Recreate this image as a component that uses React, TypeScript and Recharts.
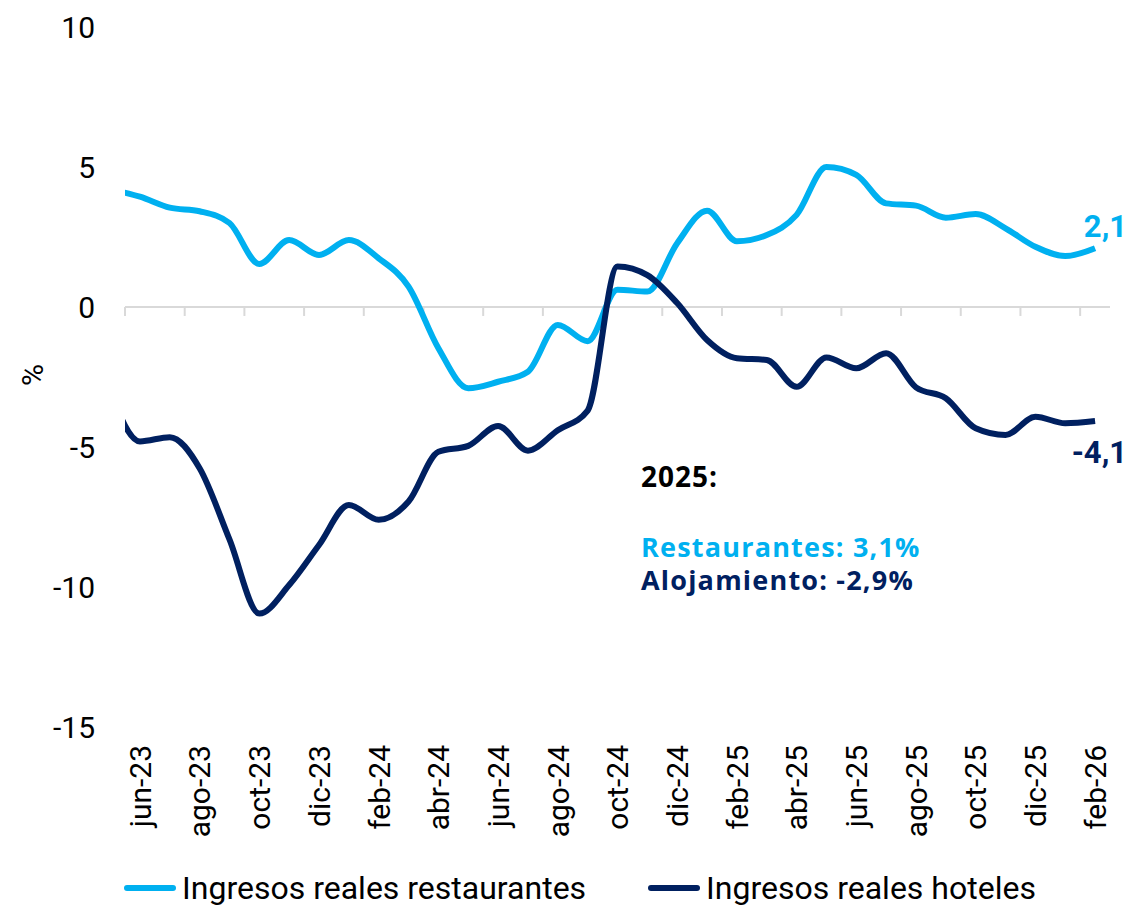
import React from 'react';
import { LineChart, Line, XAxis, YAxis, ReferenceLine, Legend, LabelList } from 'recharts';

// months (may-23 only feeds the clipped start of the lines)
const months = [
    'may-23', 'jun-23', 'jul-23', 'ago-23', 'sep-23', 'oct-23', 'nov-23', 'dic-23',
    'ene-24', 'feb-24', 'mar-24', 'abr-24', 'may-24', 'jun-24', 'jul-24', 'ago-24',
    'sep-24', 'oct-24', 'nov-24', 'dic-24',
    'ene-25', 'feb-25', 'mar-25', 'abr-25', 'may-25', 'jun-25', 'jul-25', 'ago-25',
    'sep-25', 'oct-25', 'nov-25', 'dic-25',
    'ene-26', 'feb-26',
];

const restaurantes = [
    4.2, 3.94, 3.55, 3.42, 3.0, 1.54, 2.39, 1.86,
    2.39, 1.74, 0.73, -1.47, -2.9, -2.67, -2.31, -0.64, -1.22, 0.62, 0.55, 2.28,
    3.44, 2.35, 2.57, 3.29, 5.0, 4.72, 3.7, 3.62, 3.19, 3.32, 2.81, 2.15,
    1.82, 2.1,
];

const hoteles = [
    -3.0, -4.8, -4.65, -5.76, -8.3, -10.95, -9.93, -8.5,
    -7.07, -7.6, -6.95, -5.17, -4.96, -4.25, -5.13, -4.4, -3.7, 1.45, 1.14, 0.14,
    -1.18, -1.83, -1.89, -2.85, -1.8, -2.19, -1.65, -2.87, -3.26, -4.33, -4.57, -3.92,
    -4.15, -4.07,
];

const yTicks = [-15, -10, -5, 0, 5, 10];

const resumen = [
    { text: 'Restaurantes: 3,1%', color: '#00B0F0' },
    { text: 'Alojamiento: -2,9%', color: '#002060' },
];

const series = [
    { key: 'restaurantes', name: 'Ingresos reales restaurantes', color: '#00B0F0' },
    { key: 'hoteles', name: 'Ingresos reales hoteles', color: '#002060' },
];

const data = months.map((m, k) => ({
    i: k - 1,
    mes: m,
    restaurantes: restaurantes[k],
    hoteles: hoteles[k],
}));

const lastIndex = data.length - 1;
const xTicks = data.filter(d => d.i >= 0 && d.i % 2 === 0).map(d => d.i);
const tickMarks = xTicks.map(i => i - 0.5);

const fmt = (v: number) => v.toFixed(1).replace('.', ',');

const MonthTick = ({ x, y, payload }: any) => (
    <text
        x={x}
        y={y}
        transform={`rotate(-90, ${x}, ${y})`}
        textAnchor="end"
        dy="0.36em"
        fontSize={30}
        fontFamily="Roboto"
        fill="#000"
    >
        {months[payload.value + 1]}
    </text>
);

const endLabel = (color: string, dy: number) => (props: any) => {
    const { x, y, value, index } = props;
    if (index !== lastIndex) return null;
    return (
        <text x={x + 32} y={y + dy} textAnchor="end" fontSize={31} fontWeight={700} fontFamily="Roboto" fill={color}>
            {fmt(value)}
        </text>
    );
};

const LegendContent = () => (
    <div
        style={{
            display: 'flex',
            justifyContent: 'center',
            gap: 62,
            height: 44,
            paddingTop: 8,
            paddingLeft: 50,
            boxSizing: 'border-box',
            fontFamily: 'Roboto',
            fontSize: 32,
            lineHeight: '36px',
            color: '#000',
        }}
    >
        {series.map(s => (
            <div key={s.key} style={{ display: 'flex', alignItems: 'center' }}>
                <span style={{ display: 'inline-block', width: 52, height: 6, borderRadius: 3, background: s.color, marginRight: 6 }} />
                {s.name}
            </div>
        ))}
    </div>
);

export default function App() {
    return (
        <div style={{ position: 'absolute', left: 0, top: 0, width: 1135, height: 906, background: '#fff' }}>
            <LineChart width={1135} height={906} data={data} margin={{ top: 27, right: 25, left: 0, bottom: 0 }}>
                <XAxis
                    dataKey="i"
                    type="number"
                    domain={[-0.5, 32.5]}
                    allowDataOverflow
                    ticks={xTicks}
                    interval={0}
                    tick={<MonthTick />}
                    axisLine={false}
                    tickLine={false}
                    tickSize={0}
                    tickMargin={18}
                    height={135}
                />
                <YAxis
                    domain={[-15, 10]}
                    ticks={yTicks}
                    width={125}
                    axisLine={false}
                    tickLine={false}
                    tickSize={0}
                    tickMargin={30}
                    tick={{ fontSize: 30, fontFamily: 'Roboto', fill: '#000' }}
                    label={({ viewBox }: any) => (
                        <text
                            x={32}
                            y={viewBox.y + viewBox.height / 2 - 2}
                            transform={`rotate(-90, 32, ${viewBox.y + viewBox.height / 2 - 2})`}
                            textAnchor="middle"
                            dy="0.35em"
                            fontSize={30}
                            fontFamily="Roboto"
                            fill="#000"
                        >
                            %
                        </text>
                    )}
                />
                <ReferenceLine y={0} stroke="#d9d9d9" strokeWidth={2} />
                {tickMarks.map(t => (
                    <ReferenceLine
                        key={t}
                        segment={[{ x: t, y: 0 }, { x: t, y: -0.32 }]}
                        stroke="#d9d9d9"
                        strokeWidth={2}
                    />
                ))}
                <Legend verticalAlign="bottom" content={<LegendContent />} />
                <Line
                    dataKey="restaurantes"
                    type="monotone"
                    stroke="#00B0F0"
                    strokeWidth={6}
                    dot={false}
                    isAnimationActive={false}
                >
                    <LabelList dataKey="restaurantes" content={endLabel('#00B0F0', -11)} />
                </Line>
                <Line
                    dataKey="hoteles"
                    type="monotone"
                    stroke="#002060"
                    strokeWidth={6}
                    dot={false}
                    isAnimationActive={false}
                >
                    <LabelList dataKey="hoteles" content={endLabel('#002060', 42)} />
                </Line>
                <text x={641} y={487} fontFamily="Open Sans" fontWeight={700} fontSize={28} letterSpacing={1} fill="#000">
                    2025:
                </text>
                {resumen.map((r, k) => (
                    <text
                        key={r.text}
                        x={641}
                        y={557 + k * 33}
                        fontFamily="Open Sans"
                        fontWeight={700}
                        fontSize={27}
                        letterSpacing={1.2}
                        fill={r.color}
                    >
                        {r.text}
                    </text>
                ))}
            </LineChart>
        </div>
    );
}
